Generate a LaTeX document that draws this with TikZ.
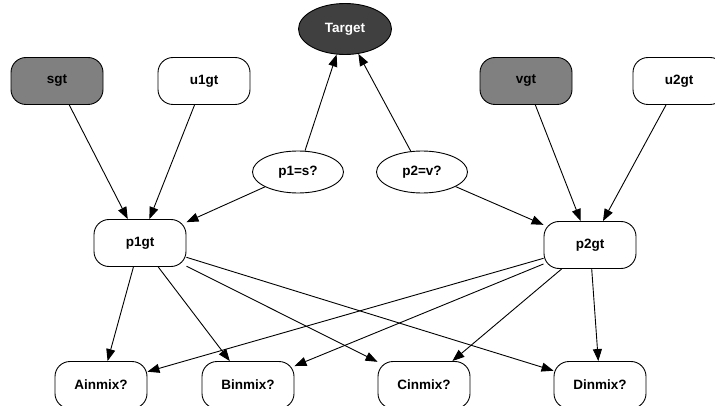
\documentclass[tikz,border=0pt]{standalone}
\usepackage{fontspec}
\setmainfont{Liberation Sans}
\usetikzlibrary{shapes.geometric,arrows.meta}
\begin{document}
\begin{tikzpicture}[x=1pt,y=-1pt,
  every node/.style={font=\fontsize{13.5}{15}\selectfont\bfseries, inner sep=0pt},
  rbox/.style={draw, line width=0.9pt, rounded corners=15pt, minimum width=92pt, minimum height=47pt, fill=white},
  gbox/.style={rbox, fill=black!50},
  ell/.style={draw, line width=0.9pt, ellipse, minimum width=91pt, minimum height=42pt, fill=white},
  edge/.style={draw, line width=0.9pt, -{Triangle[length=12pt,width=9pt]}}
]
\useasboundingbox (0,0) rectangle (715,406);
\clip (0,0) rectangle (715,406);
\node[ell, fill=black!75, text=white, minimum width=93pt, minimum height=51pt] (target) at (345,29) {Target};
\node[gbox] (sgt) at (57,81) {sgt};
\node[rbox] (u1gt) at (204,81) {u1gt};
\node[gbox] (vgt) at (526,81) {vgt};
\node[rbox] (u2gt) at (679,81) {u2gt};
\node[ell] (p1s) at (298,172) {p1=s?};
\node[ell] (p2v) at (422,172) {p2=v?};
\node[rbox] (p1gt) at (140,243) {p1gt};
\node[rbox] (p2gt) at (590,245) {p2gt};
\node[rbox] (a) at (101,385) {Ainmix?};
\node[rbox] (b) at (248,385) {Binmix?};
\node[rbox] (c) at (424,385) {Cinmix?};
\node[rbox] (d) at (600,385) {Dinmix?};
\path[edge] (p1s) -- (target);
\path[edge] (p2v) -- (target);
\path[edge] (sgt) -- (p1gt);
\path[edge] (u1gt) -- (p1gt);
\path[edge] (p1s) -- (p1gt);
\path[edge] (vgt) -- (p2gt);
\path[edge] (u2gt) -- (p2gt);
\path[edge] (p2v) -- (p2gt);
\path[edge] (p1gt) -- (a);
\path[edge] (p1gt) -- (b);
\path[edge] (p1gt) -- (c);
\path[edge] (p1gt) -- (d);
\path[edge] (p2gt) -- (a);
\path[edge] (p2gt) -- (b);
\path[edge] (p2gt) -- (c);
\path[edge] (p2gt) -- (d);
\end{tikzpicture}
\end{document}
